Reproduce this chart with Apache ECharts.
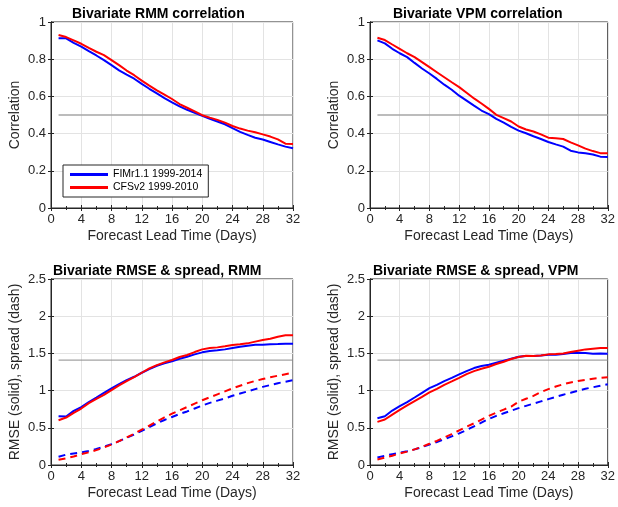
<!DOCTYPE html>
<html>
<head>
<meta charset="utf-8">
<script src="https://cdn.jsdelivr.net/npm/echarts@6/dist/echarts.min.js"></script>
<style>
  html, body { margin: 0; padding: 0; background: #fff; }
  #chart { width: 618px; height: 507px; }
</style>
</head>
<body>
<div id="chart"></div>
<script>
(function (echarts) {
    'use strict';

    // lead time, days
    const days = [1, 2, 3, 4, 5, 6, 7, 8, 9, 10, 11, 12, 13, 14, 15, 16,
        17, 18, 19, 20, 21, 22, 23, 24, 25, 26, 27, 28, 29, 30, 31, 32];

    // bivariate correlation
    const rmmCorrFim = [0.912, 0.912, 0.888, 0.868, 0.843, 0.82, 0.795, 0.768, 0.74, 0.717, 0.695, 0.667,
        0.641, 0.616, 0.591, 0.568, 0.546, 0.528, 0.512, 0.495, 0.479, 0.465, 0.45, 0.429,
        0.409, 0.393, 0.378, 0.368, 0.355, 0.342, 0.33, 0.321];
    const rmmCorrCfs = [0.93, 0.919, 0.901, 0.883, 0.861, 0.84, 0.822, 0.795, 0.768, 0.739, 0.714, 0.685,
        0.658, 0.632, 0.609, 0.586, 0.559, 0.539, 0.519, 0.499, 0.486, 0.474, 0.459, 0.441,
        0.427, 0.416, 0.407, 0.396, 0.384, 0.369, 0.346, 0.344];
    const vpmCorrFim = [0.901, 0.885, 0.856, 0.832, 0.811, 0.78, 0.75, 0.723, 0.694, 0.663, 0.636, 0.604,
        0.577, 0.55, 0.524, 0.505, 0.479, 0.459, 0.436, 0.416, 0.402, 0.386, 0.371, 0.355,
        0.342, 0.33, 0.308, 0.299, 0.294, 0.288, 0.276, 0.274];
    const vpmCorrCfs = [0.915, 0.903, 0.879, 0.856, 0.832, 0.811, 0.784, 0.757, 0.73, 0.703, 0.676, 0.65,
        0.62, 0.589, 0.562, 0.533, 0.501, 0.483, 0.465, 0.438, 0.422, 0.411, 0.396, 0.378,
        0.375, 0.371, 0.353, 0.337, 0.319, 0.306, 0.295, 0.295];

    // bivariate RMSE (solid) and spread (dash)
    const rmmRmseFim = [0.656, 0.651, 0.728, 0.777, 0.845, 0.907, 0.97, 1.029, 1.087, 1.141, 1.186, 1.24,
        1.289, 1.334, 1.366, 1.393, 1.429, 1.456, 1.487, 1.514, 1.532, 1.541, 1.554, 1.572,
        1.59, 1.604, 1.617, 1.617, 1.622, 1.626, 1.631, 1.631];
    const rmmRmseCfs = [0.602, 0.638, 0.701, 0.759, 0.831, 0.889, 0.943, 1.006, 1.069, 1.128, 1.181, 1.24,
        1.298, 1.343, 1.379, 1.411, 1.451, 1.478, 1.518, 1.554, 1.572, 1.581, 1.595, 1.613,
        1.622, 1.635, 1.658, 1.68, 1.698, 1.725, 1.743, 1.743];
    const rmmSpreadFim = [0.11, 0.14, 0.155, 0.17, 0.19, 0.215, 0.245, 0.28, 0.32, 0.365, 0.41, 0.46,
        0.51, 0.56, 0.605, 0.645, 0.685, 0.72, 0.76, 0.8, 0.835, 0.865, 0.895, 0.93,
        0.96, 0.99, 1.02, 1.05, 1.075, 1.1, 1.12, 1.14];
    const rmmSpreadCfs = [0.07, 0.09, 0.115, 0.145, 0.17, 0.2, 0.235, 0.275, 0.32, 0.37, 0.42, 0.475,
        0.53, 0.585, 0.64, 0.69, 0.735, 0.78, 0.825, 0.87, 0.91, 0.95, 0.99, 1.03,
        1.065, 1.1, 1.13, 1.155, 1.18, 1.2, 1.22, 1.24];
    const vpmRmseFim = [0.629, 0.656, 0.732, 0.791, 0.845, 0.907, 0.97, 1.033, 1.078, 1.128, 1.172, 1.217,
        1.262, 1.303, 1.33, 1.348, 1.375, 1.402, 1.429, 1.456, 1.465, 1.465, 1.473, 1.482,
        1.482, 1.491, 1.505, 1.509, 1.505, 1.496, 1.5, 1.496];
    const vpmRmseCfs = [0.58, 0.611, 0.678, 0.741, 0.8, 0.858, 0.916, 0.975, 1.024, 1.078, 1.123, 1.172,
        1.222, 1.262, 1.294, 1.321, 1.357, 1.388, 1.424, 1.451, 1.469, 1.465, 1.473, 1.487,
        1.491, 1.5, 1.518, 1.536, 1.554, 1.563, 1.572, 1.572];
    const vpmSpreadFim = [0.1, 0.125, 0.145, 0.165, 0.185, 0.21, 0.24, 0.275, 0.31, 0.345, 0.385, 0.425,
        0.47, 0.52, 0.57, 0.62, 0.66, 0.695, 0.73, 0.765, 0.795, 0.825, 0.855, 0.885,
        0.915, 0.945, 0.97, 1.0, 1.025, 1.045, 1.065, 1.085];
    const vpmSpreadCfs = [0.075, 0.1, 0.125, 0.155, 0.18, 0.21, 0.245, 0.285, 0.325, 0.37, 0.415, 0.465,
        0.515, 0.56, 0.61, 0.66, 0.705, 0.745, 0.785, 0.85, 0.89, 0.93, 0.98, 1.02,
        1.055, 1.085, 1.11, 1.13, 1.145, 1.16, 1.17, 1.18];

    // reference levels
    const corrRef = 0.5;
    const rmseRef = 1.41;

    const xTicks = { min: 0, max: 32, interval: 4 };
    const fimName = 'FIMr1.1 1999-2014';
    const cfsName = 'CFSv2 1999-2010';

    const font = 'Liberation Sans, Arial, Helvetica, sans-serif';
    const ink = '#262626';

    const panels = [
        { title: 'Bivariate RMM correlation', left: 51, top: 22, titleLeft: 67, titleTop: 2,
          yName: 'Correlation', yMax: 1, yStep: 0.2, ref: corrRef, refColor: '#a6a6a6', refWidth: 1.5,
          solid: [rmmCorrFim, rmmCorrCfs], dash: null },
        { title: 'Bivariate VPM correlation', left: 370, top: 22, titleLeft: 388, titleTop: 2,
          yName: 'Correlation', yMax: 1, yStep: 0.2, ref: corrRef, refColor: '#a6a6a6', refWidth: 1.5,
          solid: [vpmCorrFim, vpmCorrCfs], dash: null },
        { title: 'Bivariate RMSE & spread, RMM', left: 51, top: 279, titleLeft: 48, titleTop: 259,
          yName: 'RMSE (solid), spread (dash)', yMax: 2.5, yStep: 0.5, ref: rmseRef, refColor: '#8c8c8c', refWidth: 1,
          solid: [rmmRmseFim, rmmRmseCfs], dash: [rmmSpreadFim, rmmSpreadCfs] },
        { title: 'Bivariate RMSE & spread, VPM', left: 370, top: 279, titleLeft: 368, titleTop: 259,
          yName: 'RMSE (solid), spread (dash)', yMax: 2.5, yStep: 0.5, ref: rmseRef, refColor: '#8c8c8c', refWidth: 1,
          solid: [vpmRmseFim, vpmRmseCfs], dash: [vpmSpreadFim, vpmSpreadCfs] }
    ];

    const pairs = (vals) => days.map((d, i) => [d, vals[i]]);

    const grid = [], xAxis = [], yAxis = [], series = [], title = [];

    panels.forEach((p, gi) => {
        grid.push({
            left: p.left, top: p.top, width: 242, height: 186,
            show: true, borderColor: ink, borderWidth: 1, backgroundColor: '#fff'
        });
        title.push({
            text: p.title, left: p.titleLeft, top: p.titleTop,
            textStyle: { fontFamily: font, fontSize: 14, fontWeight: 'bold', color: '#000' }
        });

        // main x axis (bottom) and a mirrored one on top for the ticks
        xAxis.push({
            type: 'value', gridIndex: gi, min: xTicks.min, max: xTicks.max, interval: xTicks.interval,
            name: 'Forecast Lead Time (Days)', nameLocation: 'middle', nameGap: 21,
            nameTextStyle: { fontFamily: font, fontSize: 14, color: ink },
            axisLine: { lineStyle: { color: ink } },
            axisTick: { inside: true, length: 3, lineStyle: { color: ink } },
            minorTick: { show: true, splitNumber: 2, length: 2, lineStyle: { color: ink } },
            axisLabel: { fontFamily: font, fontSize: 13, color: ink, margin: 5 },
            splitLine: { show: true, lineStyle: { color: '#e3e3e3', width: 1 } }
        });
        xAxis.push({
            type: 'value', gridIndex: gi, position: 'top', min: xTicks.min, max: xTicks.max, interval: xTicks.interval,
            axisLine: { lineStyle: { color: ink } },
            axisTick: { inside: true, length: 3, lineStyle: { color: ink } },
            minorTick: { show: true, splitNumber: 2, length: 2, lineStyle: { color: ink } },
            axisLabel: { show: false },
            splitLine: { show: false }
        });

        yAxis.push({
            type: 'value', gridIndex: gi, min: 0, max: p.yMax, interval: p.yStep,
            name: p.yName, nameLocation: 'middle', nameGap: 29, nameRotate: 90,
            nameTextStyle: { fontFamily: font, fontSize: 14, color: ink },
            axisLine: { show: true, lineStyle: { color: ink } },
            axisTick: { show: true, inside: true, length: 3, lineStyle: { color: ink } },
            axisLabel: { fontFamily: font, fontSize: 13, color: ink, margin: 5 },
            splitLine: { show: true, lineStyle: { color: '#e3e3e3', width: 1 } }
        });
        yAxis.push({
            type: 'value', gridIndex: gi, position: 'right', min: 0, max: p.yMax, interval: p.yStep,
            axisLine: { show: true, lineStyle: { color: ink } },
            axisTick: { show: true, inside: true, length: 3, lineStyle: { color: ink } },
            axisLabel: { show: false },
            splitLine: { show: false }
        });

        const xi = gi * 2, yi = gi * 2;

        // reference line
        series.push({
            type: 'line', xAxisIndex: xi, yAxisIndex: yi, symbol: 'none', silent: true,
            data: [[days[0], p.ref], [days[days.length - 1], p.ref]],
            lineStyle: { color: p.refColor, width: p.refWidth }
        });

        if (p.dash) {
            series.push({
                type: 'line', name: 'spread-fim-' + gi, xAxisIndex: xi, yAxisIndex: yi, symbol: 'none',
                data: pairs(p.dash[0]), lineStyle: { color: '#0000ff', width: 2, type: [7, 5] }
            });
            series.push({
                type: 'line', name: 'spread-cfs-' + gi, xAxisIndex: xi, yAxisIndex: yi, symbol: 'none',
                data: pairs(p.dash[1]), lineStyle: { color: '#ff0000', width: 2, type: [7, 5] }
            });
        }
        series.push({
            type: 'line', name: fimName, xAxisIndex: xi, yAxisIndex: yi, symbol: 'none',
            data: pairs(p.solid[0]), lineStyle: { color: '#0000ff', width: 2 }, itemStyle: { color: '#0000ff' }
        });
        series.push({
            type: 'line', name: cfsName, xAxisIndex: xi, yAxisIndex: yi, symbol: 'none',
            data: pairs(p.solid[1]), lineStyle: { color: '#ff0000', width: 2 }, itemStyle: { color: '#ff0000' }
        });
    });

    const chart = echarts.init(document.getElementById('chart'), null, { renderer: 'canvas' });
    chart.setOption({
        animation: false,
        backgroundColor: '#fff',
        title: title,
        legend: {
            data: [fimName, cfsName],
            orient: 'vertical', left: 63, top: 165,
            padding: [4, 6, 4, 7],
            itemGap: 2,
            icon: 'rect',
            itemWidth: 38, itemHeight: 3,
            backgroundColor: '#fff',
            borderColor: ink, borderWidth: 1, borderRadius: 0,
            selectedMode: false,
            textStyle: { fontFamily: font, fontSize: 10.5, color: '#000', padding: [0, 34, 0, 0] }
        },
        grid: grid,
        xAxis: xAxis,
        yAxis: yAxis,
        series: series
    });

})(echarts);
</script>
</body>
</html>
